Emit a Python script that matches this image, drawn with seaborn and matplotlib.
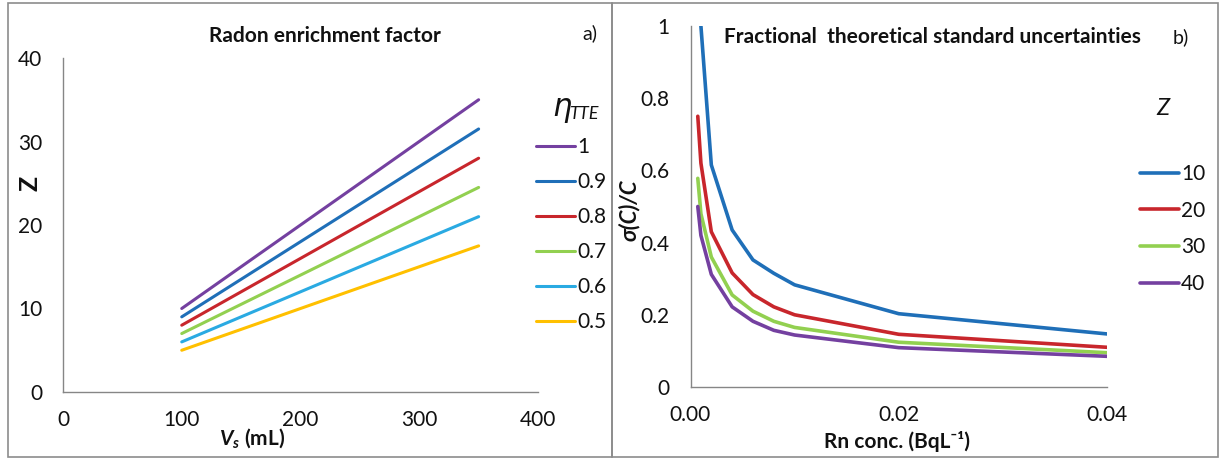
import matplotlib
matplotlib.use("Agg")
import matplotlib.pyplot as plt
from matplotlib.patches import Rectangle
import numpy as np
import pandas as pd
import seaborn as sns

# ---- panel a: radon enrichment factor Z versus sample volume ----
vs_ml = [100, 150, 200, 250, 300, 350]
eta_labels = ["1", "0.9", "0.8", "0.7", "0.6", "0.5"]
z_eta_1 = [10.0, 15.0, 20.0, 25.0, 30.0, 35.0]
z_eta_09 = [9.0, 13.5, 18.0, 22.5, 27.0, 31.5]
z_eta_08 = [8.0, 12.0, 16.0, 20.0, 24.0, 28.0]
z_eta_07 = [7.0, 10.5, 14.0, 17.5, 21.0, 24.5]
z_eta_06 = [6.0, 9.0, 12.0, 15.0, 18.0, 21.0]
z_eta_05 = [5.0, 7.5, 10.0, 12.5, 15.0, 17.5]
eta_colors = ["#7440A0", "#1F6FB8", "#C8262C", "#92D050", "#2AAAE2", "#FFC000"]

# ---- panel b: fractional standard uncertainty versus Rn concentration ----
rn_conc = [0.0007, 0.001, 0.002, 0.004, 0.006, 0.008, 0.01, 0.02, 0.04]
z_labels = ["10", "20", "30", "40"]
unc_z10 = [1.20, 1.00, 0.615, 0.435, 0.352, 0.315, 0.283, 0.203, 0.147]
unc_z20 = [0.75, 0.62, 0.430, 0.316, 0.256, 0.222, 0.200, 0.146, 0.110]
unc_z30 = [0.578, 0.48, 0.360, 0.255, 0.210, 0.182, 0.165, 0.124, 0.095]
unc_z40 = [0.50, 0.42, 0.312, 0.222, 0.182, 0.157, 0.144, 0.109, 0.085]
z_colors = ["#1F6FB8", "#C8262C", "#92D050", "#7440A0"]

sns.set_theme(style="white")
plt.rcParams["font.family"] = ["Lato", "DejaVu Sans"]
plt.rcParams["mathtext.fontset"] = "custom"
plt.rcParams["mathtext.rm"] = "Lato"
plt.rcParams["mathtext.bf"] = "Lato:bold"
plt.rcParams["mathtext.it"] = "Lato:bold:italic"

frame_grey = "#8C8C8C"
axis_grey = "#868686"
text_col = "#111111"
tick_fs = 15

df_a = pd.DataFrame({
    "Vs": vs_ml * 6,
    "Z": z_eta_1 + z_eta_09 + z_eta_08 + z_eta_07 + z_eta_06 + z_eta_05,
    "eta": [lab for lab in eta_labels for _ in vs_ml],
})
df_b = pd.DataFrame({
    "C": rn_conc * 4,
    "u": unc_z10 + unc_z20 + unc_z30 + unc_z40,
    "Z": [lab for lab in z_labels for _ in rn_conc],
})

W, H = 1221, 459
fig = plt.figure(figsize=(W / 100, H / 100), dpi=100)

def fx(px):
    return px / W

def fy(py):
    return 1 - py / H

# panel frames
for x0, x1 in [(8, 612), (612, 1218)]:
    fig.patches.append(Rectangle((fx(x0), fy(457)), fx(x1) - fx(x0), fy(3) - fy(457),
                                 transform=fig.transFigure, fill=False,
                                 edgecolor=frame_grey, linewidth=1.2))

ax_a = fig.add_axes([fx(63), fy(392), fx(538) - fx(63), fy(58) - fy(392)])
ax_b = fig.add_axes([fx(690.5), fy(387), fx(1107) - fx(690.5), fy(26) - fy(387)])

sns.lineplot(data=df_a, x="Vs", y="Z", hue="eta", hue_order=eta_labels,
             palette=eta_colors, linewidth=2.2, ax=ax_a, legend=True)
sns.lineplot(data=df_b, x="C", y="u", hue="Z", hue_order=z_labels,
             palette=z_colors, linewidth=2.6, ax=ax_b, legend=True)

for ax in (ax_a, ax_b):
    for side in ("top", "right"):
        ax.spines[side].set_visible(False)
    for side in ("left", "bottom"):
        ax.spines[side].set_color(axis_grey)
        ax.spines[side].set_linewidth(1.0)
    ax.tick_params(axis="both", direction="out", length=5, width=1.0,
                   color=axis_grey, labelcolor=text_col, labelsize=tick_fs)
    ax.set_xlabel("")
    ax.set_ylabel("")

ax_a.set_xlim(0, 400)
ax_a.set_ylim(0, 40)
ax_a.set_xticks([0, 100, 200, 300, 400])
ax_a.set_yticks([0, 10, 20, 30, 40])
ax_a.tick_params(axis="x", pad=8)
ax_a.tick_params(axis="y", pad=10)

ax_b.set_xlim(0, 0.04)
ax_b.set_ylim(0, 1)
ax_b.set_xticks([0, 0.02, 0.04])
ax_b.set_xticklabels(["0.00", "0.02", "0.04"])
ax_b.set_yticks([0, 0.2, 0.4, 0.6, 0.8, 1.0])
ax_b.set_yticklabels(["0", "0.2", "0.4", "0.6", "0.8", "1"])
ax_b.tick_params(axis="x", pad=8)
ax_b.tick_params(axis="y", pad=10)

# legends
h_a, l_a = ax_a.get_legend_handles_labels()
ax_a.legend(h_a, l_a, loc="upper left", bbox_to_anchor=(fx(536), fy(137)),
            bbox_transform=fig.transFigure, frameon=False, fontsize=tick_fs,
            handlelength=1.85, handletextpad=0.12, labelspacing=0.72,
            borderpad=0, borderaxespad=0, labelcolor=text_col)
h_b, l_b = ax_b.get_legend_handles_labels()
ax_b.legend(h_b, l_b, loc="upper left", bbox_to_anchor=(fx(1140), fy(164)),
            bbox_transform=fig.transFigure, frameon=False, fontsize=tick_fs,
            handlelength=1.85, handletextpad=0.12, labelspacing=0.8,
            borderpad=0, borderaxespad=0, labelcolor=text_col)

# legend titles
fig.text(fx(552), fy(116), "η", fontsize=22, style="italic", color=text_col,
         ha="left", va="baseline", family=["DejaVu Sans"])
fig.text(fx(569), fy(119), "TTE", fontsize=13, style="italic", color=text_col,
         ha="left", va="baseline")
fig.text(fx(1163), fy(115), "Z", fontsize=17, style="italic", color=text_col,
         ha="center", va="baseline")

# titles and panel tags
fig.text(fx(325), fy(36), "Radon enrichment factor", fontsize=15, fontweight="bold",
         color=text_col, ha="center", va="center")
fig.text(fx(590), fy(33), "a)", fontsize=14, color=text_col, ha="center", va="center")
fig.text(fx(932), fy(37), "Fractional  theoretical standard uncertainties", fontsize=15,
         fontweight="bold", color=text_col, ha="center", va="center")
fig.text(fx(1181), fy(37), "b)", fontsize=14, color=text_col, ha="center", va="center")

# axis labels
fig.text(fx(30), fy(183), "Z", fontsize=18, fontweight="bold", color=text_col,
         rotation=90, ha="center", va="center")
fig.text(fx(252), fy(438), r"$\it{V}_{s}$ (mL)", fontsize=15, fontweight="bold",
         color=text_col, ha="center", va="center")
fig.text(fx(629), fy(210), "σ(C)/C", fontsize=16, fontweight="bold", style="italic",
         color=text_col, rotation=90, ha="center", va="center")
fig.text(fx(897), fy(441), "Rn conc. (BqL\u207b\u00b9)", fontsize=15,
         fontweight="bold", color=text_col, ha="center", va="center")

fig.savefig("out.png", dpi=100)
